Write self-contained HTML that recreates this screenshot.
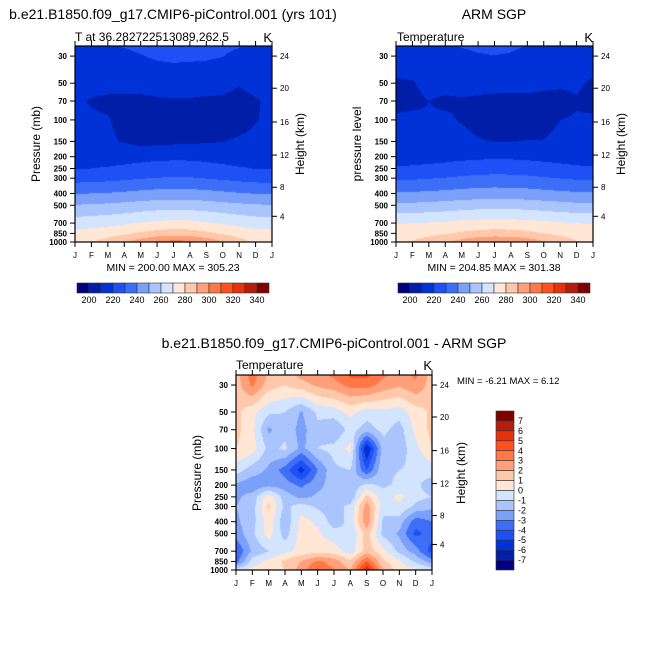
<!DOCTYPE html>
<html><head><meta charset="utf-8"><style>
body{margin:0;background:#fff;width:668px;height:668px;overflow:hidden;position:relative;font-family:"Liberation Sans",sans-serif}
canvas{position:absolute}
svg{position:absolute;left:0;top:0}
</style></head><body>
<canvas id="c1" style="left:75px;top:46px" width="197" height="196"></canvas>
<canvas id="c2" style="left:396px;top:46px" width="197" height="196"></canvas>
<canvas id="c3" style="left:236px;top:375px" width="196" height="195"></canvas>
<svg id="ov" width="668" height="668" font-family="Liberation Sans, sans-serif">
<text x="173" y="19" font-size="14" text-anchor="middle">b.e21.B1850.f09_g17.CMIP6-piControl.001 (yrs 101)</text>
<text x="75" y="41" font-size="12">T at 36.282722513089,262.5</text>
<text x="272" y="42" font-size="13" text-anchor="end">K</text>
<text x="173" y="271" font-size="10.5" text-anchor="middle">MIN = 200.00 MAX = 305.23</text>
<text transform="translate(40,144) rotate(-90)" font-size="12" text-anchor="middle">Pressure (mb)</text>
<text transform="translate(304,144) rotate(-90)" font-size="12" text-anchor="middle">Height (km)</text>

<text x="494" y="19" font-size="14" text-anchor="middle">ARM SGP</text>
<text x="397" y="41" font-size="12">Temperature</text>
<text x="593" y="42" font-size="13" text-anchor="end">K</text>
<text x="494" y="271" font-size="10.5" text-anchor="middle">MIN = 204.85 MAX = 301.38</text>
<text transform="translate(361,144) rotate(-90)" font-size="12" text-anchor="middle">pressure level</text>
<text transform="translate(625,144) rotate(-90)" font-size="12" text-anchor="middle">Height (km)</text>

<text x="334" y="348" font-size="14" text-anchor="middle">b.e21.B1850.f09_g17.CMIP6-piControl.001 - ARM SGP</text>
<text x="236" y="369" font-size="12">Temperature</text>
<text x="432" y="370" font-size="13" text-anchor="end">K</text>
<text x="457" y="384" font-size="9.5">MIN =  -6.21 MAX =  6.12</text>
<text transform="translate(201,473) rotate(-90)" font-size="12" text-anchor="middle">Pressure (mb)</text>
<text transform="translate(465,473) rotate(-90)" font-size="12" text-anchor="middle">Height (km)</text>
</svg>
<script>
const months=['J','F','M','A','M','J','J','A','S','O','N','D','J'];
const pLevels=[25,30,50,70,100,150,200,250,300,400,500,700,850,1000];
const pTicks=[30,50,70,100,150,200,250,300,400,500,700,850,1000];
const hTicks=[4,8,12,16,20,24];
const hTickP=[616,356,194,104,55,30];
const absLevels=[200,210,220,230,240,250,260,270,280,290,300,310,320,330,340];
const absLabels=[200,220,240,260,280,300,320,340];
const diffLevels=[-7,-6,-5,-4,-3,-2,-1,0,1,2,3,4,5,6,7];
const palette=['#000080','#001ea8','#0032d8','#1e50f5','#3c6ef8','#7aa0fa','#aac4fd','#d2e4fe','#ffe6d5','#ffc8ab','#ffa07a','#ff7846','#ff501e','#e6320a','#b41e0a','#800000'];
const modelT=[
[215,216,218,220.5,222,223,224,223.5,223,222,220.5,217,215],
[214,214.5,215.5,217.5,219.5,221.5,222.5,222,221.5,220.2,217.5,215,214],
[213,212.5,212.5,212.5,212.5,212.5,212.5,212.5,212.5,212,210.5,212,213],
[211,209.5,208.5,208.5,208.5,209.2,209.5,209.5,209,209,208,209.5,211],
[212,211,210.5,208,206,206,206,206,206,206,207,209.5,212],
[213,212,211,209.5,207,207.5,208,208.5,209,209.8,211,212,213],
[215,215.3,215.8,216.4,217.1,217.7,218,217.9,217.3,216.5,215.8,215.2,215],
[219.5,220,220.8,221.8,223,224,224.5,224.3,223.3,222,220.8,219.8,219.5],
[226,226.5,227.2,228.2,229.4,230.3,230.8,230.6,229.6,228.4,227.2,226.2,226],
[239.5,240,240.6,241.5,242.7,243.6,244,243.8,242.9,241.8,240.6,239.7,239.5],
[250.5,251,251.8,252.8,254,255,255.5,255.3,254.3,253,251.8,250.8,250.5],
[265,265.8,267,268.6,270.6,272.2,273,272.6,271,269,267,265.4,265],
[273,274.2,276,278.4,281.4,283.8,285,284.4,282,279,276,273.6,273],
[277,279.7,283.8,289.2,295.9,301.3,304,302.7,297.3,290.5,283.8,278.4,277]];
const obsT=[
[215,215.5,216,217,220.5,222,222.5,221.5,219.5,217,216,215.5,215],
[214,214,214.5,215,217,219,219.8,219,217,215.5,214.5,214,214],
[209,209.5,212,212,212,212,212,212,212,211.5,211,211,209],
[208,208.5,210,209,209.5,209,208.5,208.5,208.5,208,208,209.5,208],
[211,211.5,210.5,211,209.5,208,207,207,207.5,208,210,210.5,211],
[214,214,213.5,213,212,210.5,209.8,209.8,210.2,210.2,211.5,213,214],
[216,216.2,216.6,217.1,217.8,218.3,218.5,218.4,218,217.4,216.8,216.2,216],
[221,221.4,222.1,223,224.2,225,225.5,225.3,224.6,223.5,222.4,221.4,221],
[228.3,228.7,229.5,230.4,231.6,232.5,233,232.8,232.1,230.9,229.7,228.7,228.3],
[241,241.3,241.9,242.6,243.5,244.2,244.5,244.3,243.8,242.9,242,241.3,241],
[252,252.4,253.1,254,255.2,256,256.5,256.3,255.6,254.5,253.4,252.4,252],
[269.5,269.9,270.6,271.5,272.7,273.5,274,273.8,273.1,272,270.9,269.9,269.5],
[275,275.7,277.3,279.1,281.3,283.1,284,283.6,282.2,280,277.7,275.7,275],
[279,280.8,284.5,288.9,294.4,298.8,301,299.9,296.6,291.1,285.6,280.8,279]];
const diffT=[
[1.5,3.5,1.8,1.5,2.3,2.6,3.2,4.2,4.2,3.2,2.5,3.2,1.5],
[1.5,3.2,1.5,1.0,1.6,2.2,2.6,3.3,3.5,2.6,2.2,2.8,1.5],
[1.3,0.3,-0.8,-1.0,-2.1,-0.8,-0.5,0.3,-0.5,-0.3,-0.5,0.5,1.2],
[1.3,0.3,-2.2,-1.3,-2.4,-1.2,-1.9,-0.6,-1.5,-0.7,-1.5,0.3,1.3],
[1.0,0.5,-1.3,-0.8,-2.3,-1.0,-0.7,0.3,-6.2,-1.5,-1.6,-0.3,1.0],
[-0.5,-1.5,-2.2,-3.5,-5.5,-3.0,-1.2,-1.0,-4.0,-1.2,-1.0,-0.8,-0.5],
[-2.2,-2.7,-2.3,-2.5,-3.2,-2.3,-1.5,-1.8,-0.7,-1.2,-0.8,-0.8,-1.5],
[-2.2,-1.6,0.6,-1.5,-2.3,-1.8,-1.8,-1.8,1.3,-0.5,0.3,-0.7,-1.0],
[-2.0,-1.5,1.2,-1.3,-0.5,-1.2,-1.5,-0.7,2.6,-0.6,-0.2,-1.2,-1.8],
[-2.2,-1.4,0.6,-1.8,0.4,-0.2,-1.5,-0.7,2.8,-1.2,-1.5,-3.6,-3.0],
[-2.6,-1.2,0.5,-1.5,0.5,0.2,-0.6,-1.0,1.5,-1.3,-2.2,-4.3,-3.5],
[-4.0,-1.8,-1.0,-0.3,0.4,0.6,0.5,-0.5,1.5,0.4,-1.3,-2.5,-4.5],
[-3.5,-0.5,0.3,1.2,2.0,3.2,2.5,1.2,4.0,1.2,0.2,-1.2,-2.5],
[-0.5,0.3,0.5,1.0,2.5,4.2,3.0,2.0,6.1,2.0,0.5,0.3,-0.5]];

const P_TOP=24.8,NS='http://www.w3.org/2000/svg',ov=document.getElementById('ov');
function yOf(p,g){return g.y1-Math.log(1000/p)/Math.log(1000/P_TOP)*(g.y1-g.y0);}
function xOf(m,g){return g.x0+m/12*(g.x1-g.x0);}
function hex(c){return [parseInt(c.substr(1,2),16),parseInt(c.substr(3,2),16),parseInt(c.substr(5,2),16)];}
const pal=palette.map(hex);
function binOf(v,lv){let i=0;while(i<lv.length&&v>=lv[i])i++;return i;}
function sample(data,m,p){
  const lp=Math.log(p);let r=0;
  if(p<=pLevels[0]){r=0;var t=0;}else{
    while(r<pLevels.length-2&&p>pLevels[r+1])r++;
    var t=(lp-Math.log(pLevels[r]))/(Math.log(pLevels[r+1])-Math.log(pLevels[r]));t=Math.min(1,Math.max(0,t));}
  let c=Math.min(11,Math.floor(m));const u=Math.min(1,Math.max(0,m-c));
  const r2=Math.min(r+1,pLevels.length-1);
  const a=data[r][c]*(1-u)+data[r][c+1]*u,b=data[r2][c]*(1-u)+data[r2][c+1]*u;
  return a*(1-t)+b*t;}
function fill(id,data,lv,g){
  const cv=document.getElementById(id),ctx=cv.getContext('2d'),W=cv.width,H=cv.height;
  const img=ctx.createImageData(W,H);
  for(let py=0;py<H;py++){const p=1000*Math.exp(-(H-py-0.5)/H*Math.log(1000/P_TOP));
    for(let px=0;px<W;px++){const m=(px+0.5)/W*12;const col=pal[binOf(sample(data,m,p),lv)];
      const k=(py*W+px)*4;img.data[k]=col[0];img.data[k+1]=col[1];img.data[k+2]=col[2];img.data[k+3]=255;}}
  ctx.putImageData(img,0,0);}
function el(tag,attrs,parent){const e=document.createElementNS(NS,tag);for(const k in attrs)e.setAttribute(k,attrs[k]);(parent||ov).appendChild(e);return e;}
function axes(g,prefix){
  const fr=el('rect',{x:g.x0,y:g.y0,width:g.x1-g.x0,height:g.y1-g.y0,fill:'none',stroke:'#000','stroke-width':1.2});
  
  
  months.forEach((mn,i)=>{const x=xOf(i,g);
    const t1=el('line',{x1:x,x2:x,y1:g.y1,y2:g.y1+5,stroke:'#000'});
    
    
    const t2=el('line',{x1:x,x2:x,y1:g.y0,y2:g.y0-5,stroke:'#000'});
    
    
    const tx=el('text',{x:x,y:g.y1+16,'font-size':8,'text-anchor':'middle'});tx.textContent=mn;
    
    });
  pTicks.forEach(p=>{const y=yOf(p,g);
    const t=el('line',{x1:g.x0-5,x2:g.x0,y1:y,y2:y,stroke:'#000'});
    
    
    const tx=el('text',{x:g.x0-8,y:y+3,'font-size':8,'text-anchor':'end','font-weight':'bold'});tx.textContent=p;
    
    });
  hTicks.forEach((h,i)=>{const y=yOf(hTickP[i],g);
    const t=el('line',{x1:g.x1,x2:g.x1+5,y1:y,y2:y,stroke:'#000'});
    
    
    const tx=el('text',{x:g.x1+8,y:y+3,'font-size':8});tx.textContent=h;
    
    });}
function hbar(x0,x1,y0,h,prefix){const w=(x1-x0)/16;
  palette.forEach((c,i)=>{const r=el('rect',{x:x0+i*w,y:y0,width:w,height:h,fill:c,stroke:'#333','stroke-width':0.6});
    
    });
  absLabels.forEach(v=>{const i=absLevels.indexOf(v)+1;const tx=el('text',{x:x0+i*w,y:y0+h+10,'font-size':9,'text-anchor':'middle'});tx.textContent=v;
    
    });}
const g1={x0:75,x1:272,y0:46,y1:242},g2={x0:396,x1:593,y0:46,y1:242},g3={x0:236,x1:432,y0:375,y1:570};
fill('c1',modelT,absLevels,g1);fill('c2',obsT,absLevels,g2);fill('c3',diffT,diffLevels,g3);
axes(g1,'model');axes(g2,'obs');axes(g3,'diff');
hbar(77,269,283,10,'model');hbar(398,590,283,10,'obs');
(function(){const x0=496,w=18,y0=411,h=159/16;
  palette.slice().reverse().forEach((c,i)=>{const r=el('rect',{x:x0,y:y0+i*h,width:w,height:h,fill:c,stroke:'#333','stroke-width':0.6});
    
    });
  diffLevels.slice().reverse().forEach((v,i)=>{const tx=el('text',{x:x0+w+4,y:y0+(i+1)*h+3,'font-size':9});tx.textContent=v;
    
    });})();
</script>
</body></html>
